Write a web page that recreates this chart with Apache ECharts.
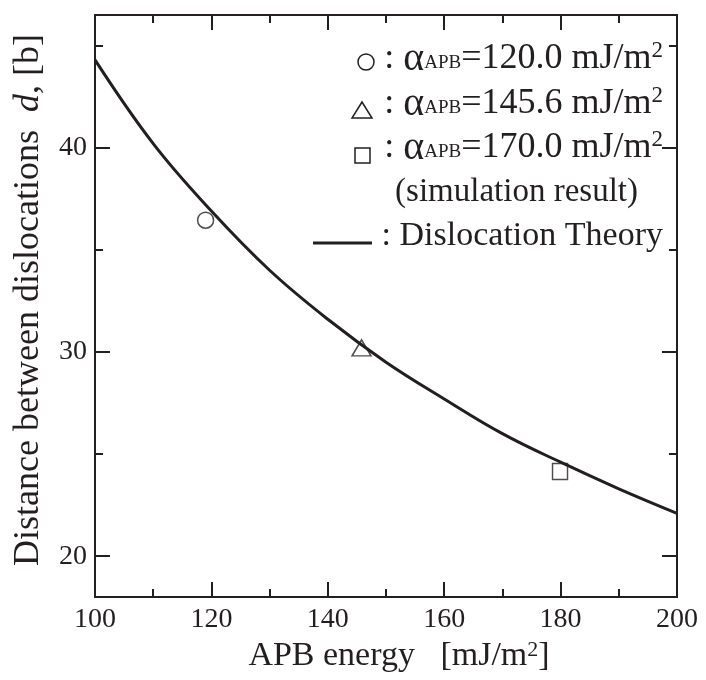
<!DOCTYPE html>
<html>
<head>
<meta charset="utf-8">
<script src="https://cdn.jsdelivr.net/npm/echarts@6/dist/echarts.min.js"></script>
<style>
  html, body { margin: 0; padding: 0; background: #fff; }
  #chart { width: 706px; height: 680px; }
</style>
</head>
<body>
<div id="chart"></div>
<script>
// APB energy axis (mJ/m^2) and the dislocation-theory curve d(γ)
const theoryEnergy = [100, 110, 120, 130, 140, 150, 160, 170, 180, 190, 200];
const theoryDistance = [44.3, 40.2, 36.9, 34.0, 31.6, 29.5, 27.7, 26.0, 24.6, 23.3, 22.1];

// Simulation results (circle, triangle, square)
const simEnergy = [119.0, 145.8, 179.9];
const simDistance = [36.45, 30.2, 24.15];
const simSymbols = ['circle', 'triangle', 'rect'];

// Tick values
const yMajorTicks = [20, 30, 40];
const yMinorTicks = [25, 35, 45];

const INK = '#231f20';
const SERIF = '"Liberation Serif", "Times New Roman", serif';
const TITLE_SIZE = 36;
const TICK_SIZE = 28;

const chart = echarts.init(document.getElementById('chart'), null, { renderer: 'canvas' });

const lineStyle = { color: INK, width: 2 };

function xAxisDef(pos, showLabel) {
  return {
    type: 'value', position: pos, min: 100, max: 200, interval: 20,
    axisLine: { show: true, lineStyle },
    axisTick: { show: true, inside: true, length: 15, lineStyle },
    minorTick: { show: true, splitNumber: 2, length: 8, lineStyle },
    splitLine: { show: false }, minorSplitLine: { show: false },
    axisLabel: { show: showLabel, color: INK, fontFamily: SERIF, fontSize: TICK_SIZE, margin: 9 }
  };
}

function yAxisDef(pos, ticks, len, showLabel) {
  return {
    type: 'value', position: pos, min: 18, max: 46.5,
    axisLine: { show: true, onZero: false, lineStyle },
    axisTick: { show: true, inside: true, length: len, customValues: ticks, lineStyle },
    splitLine: { show: false },
    axisLabel: { show: showLabel, customValues: ticks, color: INK, fontFamily: SERIF, fontSize: TICK_SIZE, margin: 8 }
  };
}

const xBottom = xAxisDef('bottom', true);
xBottom.name = 'APB energy   [mJ/m{sup|2}]';
xBottom.nameLocation = 'middle';
xBottom.nameGap = 41;
xBottom.nameTextStyle = {
  color: INK, fontFamily: SERIF, fontSize: 34, padding: [0, 0, 0, 26],
  rich: { sup: { fontFamily: SERIF, fontSize: 22, color: INK, verticalAlign: 'top' } }
};

const yLeft = yAxisDef('left', yMajorTicks, 15, true);
yLeft.name = 'Distance between dislocations  {i|d}, [b]';
yLeft.nameLocation = 'middle';
yLeft.nameGap = 48;
yLeft.nameTextStyle = {
  color: INK, fontFamily: SERIF, fontSize: TITLE_SIZE, padding: [0, 0, 0, 12],
  rich: { i: { fontFamily: SERIF, fontStyle: 'italic', fontSize: TITLE_SIZE, color: INK } }
};

function richLegend(size) {
  return {
    c: { fontFamily: SERIF, fontSize: size, color: INK },
    a: { fontFamily: SERIF, fontSize: 40, color: INK },
    s: { fontFamily: SERIF, fontSize: 19, color: INK, verticalAlign: 'bottom', padding: [0, 0, 6, 0] },
    sup: { fontFamily: SERIF, fontSize: 23, color: INK, verticalAlign: 'top' }
  };
}

function legendRow(text, y, x, size) {
  return {
    type: 'text', x: x, y: y, silent: true,
    style: {
      text: text, rich: richLegend(size), fill: INK,
      font: size + 'px ' + SERIF, textAlign: 'right', textVerticalAlign: 'middle'
    }
  };
}

const graphics = [
  { type: 'circle', shape: { cx: 366, cy: 62, r: 8 }, style: { fill: 'none', stroke: INK, lineWidth: 1.5 } },
  { type: 'polygon', shape: { points: [[362, 102], [352, 118], [372, 118]] }, style: { fill: 'none', stroke: INK, lineWidth: 1.5 } },
  { type: 'rect', shape: { x: 355, y: 148, width: 15, height: 15 }, style: { fill: 'none', stroke: INK, lineWidth: 1.5 } },
  { type: 'line', shape: { x1: 313, y1: 243, x2: 372, y2: 243 }, style: { stroke: INK, lineWidth: 3 } },
  legendRow('{c|: }{a|α}{s|APB}{c|=120.0 mJ/m}{sup|2}', 59, 663, 36),
  legendRow('{c|: }{a|α}{s|APB}{c|=145.6 mJ/m}{sup|2}', 104, 663, 36),
  legendRow('{c|: }{a|α}{s|APB}{c|=170.0 mJ/m}{sup|2}', 148, 663, 36),
  legendRow('{c|(simulation result)}', 192, 638, 33),
  legendRow('{c|: Dislocation Theory}', 236, 663, 34)
];

const option = {
  backgroundColor: '#ffffff',
  animation: false,
  grid: { left: 95, right: 29, top: 15, bottom: 83, containLabel: false },
  xAxis: [xBottom, xAxisDef('top', false)],
  yAxis: [
    yLeft,
    yAxisDef('left', yMinorTicks, 8, false),
    yAxisDef('right', yMajorTicks, 15, false),
    yAxisDef('right', yMinorTicks, 8, false)
  ],
  series: [
    {
      name: 'Dislocation Theory', type: 'line', xAxisIndex: 0, yAxisIndex: 0,
      data: theoryEnergy.map((e, i) => [e, theoryDistance[i]]),
      smooth: 0.4, showSymbol: false, symbol: 'none',
      lineStyle: { color: INK, width: 3 }, z: 3
    },
    {
      name: 'simulation result', type: 'scatter', xAxisIndex: 0, yAxisIndex: 0,
      data: simEnergy.map((e, i) => ({
        value: [e, simDistance[i]],
        symbol: simSymbols[i],
        symbolSize: simSymbols[i] === 'circle' ? 16 : (simSymbols[i] === 'triangle' ? [19, 16] : [15, 16])
      })),
      itemStyle: { color: 'rgba(255,255,255,0)', borderColor: INK, borderWidth: 1.5 },
      z: 4
    }
  ],
  graphic: graphics
};

chart.setOption(option);
</script>
</body>
</html>
